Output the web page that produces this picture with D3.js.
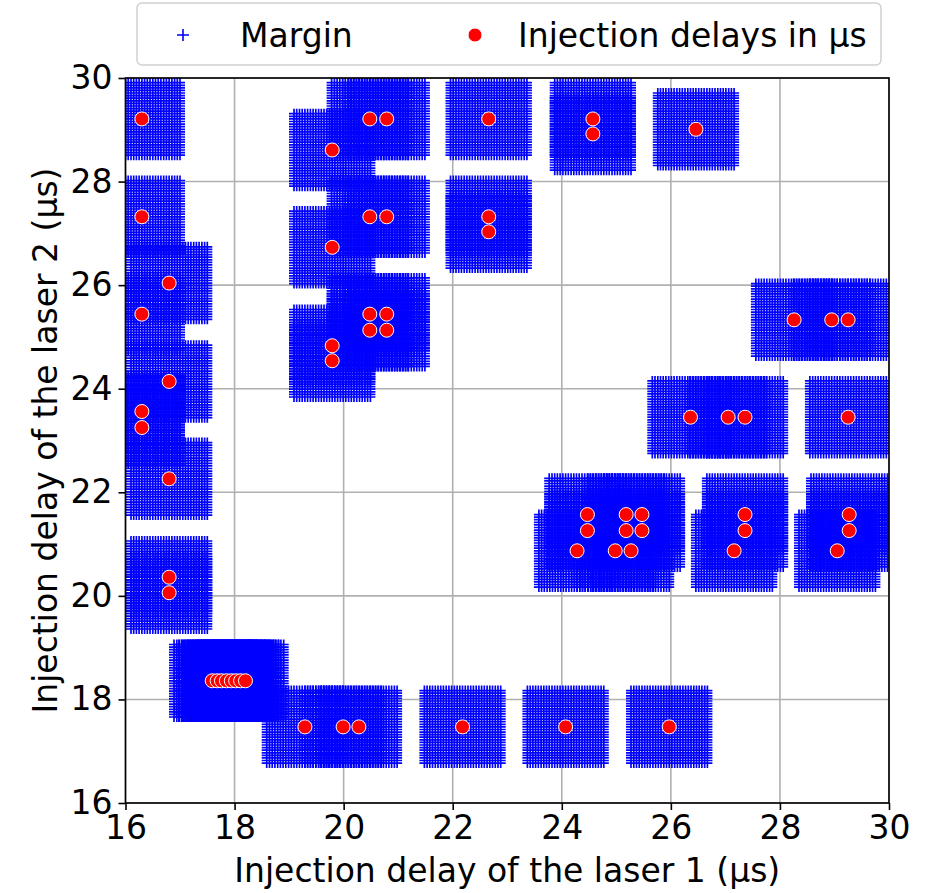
<!DOCTYPE html>
<html>
<head>
<meta charset="utf-8">
<script src="https://cdn.jsdelivr.net/npm/d3@7"></script>
<style>
  body { margin: 0; background: #fff; }
  text { font-family: "DejaVu Sans", sans-serif; }
</style>
</head>
<body>
<script>
// injection delays (µs)
var delayLaser1 = [16.30, 16.30, 16.30, 16.80, 16.80, 16.30, 16.30, 16.80, 16.80, 16.80,
    17.59, 17.68, 17.76, 17.85, 17.94, 18.02, 18.11, 18.20,
    19.29, 19.99, 20.28, 22.18, 24.07, 25.97,
    19.79, 19.79, 19.79, 19.79,
    20.48, 20.79, 20.48, 20.79, 20.48, 20.79, 20.48, 20.79,
    22.66, 22.66, 22.66, 24.57, 24.57, 26.46,
    28.26, 28.95, 29.25,
    26.36, 27.05, 27.36, 29.25,
    24.47, 24.47, 25.18, 25.47, 25.18, 25.47, 24.28, 24.98, 25.27,
    27.36, 27.36, 27.16,
    29.27, 29.27, 29.05];
var delayLaser2 = [29.21, 27.32, 25.44, 26.04, 24.14, 23.56, 23.25, 22.26, 20.36, 20.06,
    18.36, 18.36, 18.36, 18.36, 18.36, 18.36, 18.36, 18.36,
    17.47, 17.47, 17.47, 17.47, 17.47, 17.47,
    28.61, 26.73, 24.83, 24.54,
    29.21, 29.21, 27.32, 27.32, 25.44, 25.44, 25.13, 25.13,
    29.21, 27.32, 27.03, 29.21, 28.92, 29.01,
    25.33, 25.33, 25.33,
    23.45, 23.45, 23.45, 23.45,
    21.57, 21.26, 21.57, 21.57, 21.26, 21.26, 20.87, 20.87, 20.87,
    21.57, 21.26, 20.87,
    21.57, 21.26, 20.87];

var tickValues = [16, 18, 20, 22, 24, 26, 28, 30];
var legendLabels = ["Margin", "Injection delays in µs"];

// margin grid around each point (µs)
var marginHalf = 0.7;
var marginStep = 0.05;

var points = delayLaser1.map(function(d, i) { return {x: d, y: delayLaser2[i]}; });

var svgWidth = 936, svgHeight = 893;
var margin = {top: 78, right: 47, bottom: 90, left: 125.5};
var chartWidth = svgWidth - margin.left - margin.right;
var chartHeight = svgHeight - margin.top - margin.bottom;

var svg = d3.select("body").append("svg")
    .attr("width", svgWidth)
    .attr("height", svgHeight);

var chartGroup = svg.append("g")
    .attr("transform", "translate(" + margin.left + "," + margin.top + ")");

var x = d3.scaleLinear().domain([16, 30]).range([0, chartWidth]);
var y = d3.scaleLinear().domain([16, 30]).range([chartHeight, 0]);

svg.append("defs").append("clipPath").attr("id", "clip")
    .append("rect").attr("width", chartWidth).attr("height", chartHeight);

// grid
chartGroup.append("g").selectAll("line.vx")
    .data(tickValues).enter().append("line")
    .attr("x1", d => x(d)).attr("x2", d => x(d))
    .attr("y1", 0).attr("y2", chartHeight)
    .attr("stroke", "#b0b0b0").attr("stroke-width", 1.6);
chartGroup.append("g").selectAll("line.hy")
    .data(tickValues).enter().append("line")
    .attr("y1", d => y(d)).attr("y2", d => y(d))
    .attr("x1", 0).attr("x2", chartWidth)
    .attr("stroke", "#b0b0b0").attr("stroke-width", 1.6);

// margin crosses
var offsets = d3.range(-marginHalf, marginHalf + 1e-6, marginStep);
var half = 5;
function crossPath(p) {
    var s = [];
    offsets.forEach(function(dx) {
        offsets.forEach(function(dy) {
            var cx = x(p.x + dx).toFixed(1), cy = y(p.y + dy).toFixed(1);
            s.push("M" + (cx - half).toFixed(1) + "," + cy + "h" + (2 * half) +
                 "M" + cx + "," + (cy - half).toFixed(1) + "v" + (2 * half));
        });
    });
    return s.join("");
}
chartGroup.append("g").attr("clip-path", "url(#clip)")
    .selectAll("path")
    .data(points).enter().append("path")
    .attr("d", crossPath)
    .attr("fill", "none")
    .attr("stroke", "#0000ff")
    .attr("stroke-width", 1.7);

// red points
chartGroup.append("g")
    .selectAll("circle")
    .data(points).enter().append("circle")
    .attr("cx", d => x(d.x))
    .attr("cy", d => y(d.y))
    .attr("r", 7)
    .attr("fill", "#ff0000")
    .attr("stroke", "#ffffff")
    .attr("stroke-width", 1);

// axes
var xAxis = chartGroup.append("g")
    .attr("transform", "translate(0," + chartHeight + ")")
    .call(d3.axisBottom(x).tickValues(tickValues).tickSize(7).tickPadding(6));
var yAxis = chartGroup.append("g")
    .call(d3.axisLeft(y).tickValues(tickValues).tickSize(7).tickPadding(6));
[xAxis, yAxis].forEach(function(a) {
    a.selectAll("text").attr("font-size", 33).attr("fill", "#000")
        .style("font-family", "DejaVu Sans");
    a.selectAll("line").attr("stroke", "#000").attr("stroke-width", 1.6);
    a.select(".domain").remove();
});

// frame
chartGroup.append("rect")
    .attr("width", chartWidth).attr("height", chartHeight)
    .attr("fill", "none").attr("stroke", "#000").attr("stroke-width", 1.6);

// axis labels
svg.append("text")
    .attr("x", margin.left + chartWidth / 2)
    .attr("y", 882)
    .attr("text-anchor", "middle")
    .attr("font-size", 33)
    .text("Injection delay of the laser 1 (µs)");
svg.append("text")
    .attr("transform", "translate(57," + (margin.top + chartHeight / 2) + ") rotate(-90)")
    .attr("text-anchor", "middle")
    .attr("font-size", 33)
    .text("Injection delay of the laser 2 (µs)");

// legend
var legend = svg.append("g");
legend.append("rect")
    .attr("x", 137).attr("y", 3).attr("width", 744).attr("height", 62)
    .attr("rx", 5)
    .attr("fill", "#fff").attr("fill-opacity", 0.8)
    .attr("stroke", "#d0d0d0").attr("stroke-width", 1.5);
legend.append("path")
    .attr("d", "M" + (183 - 6) + ",35h12M183," + (35 - 6) + "v12")
    .attr("stroke", "#0000ff").attr("stroke-width", 1.6);
legend.append("circle")
    .attr("cx", 475).attr("cy", 35).attr("r", 7)
    .attr("fill", "#ff0000").attr("stroke", "#fff").attr("stroke-width", 1);
legend.selectAll("text.lab")
    .data(legendLabels).enter().append("text")
    .attr("x", (d, i) => i === 0 ? 240 : 518)
    .attr("y", 47)
    .attr("font-size", 33)
    .text(d => d);
</script>
</body>
</html>
